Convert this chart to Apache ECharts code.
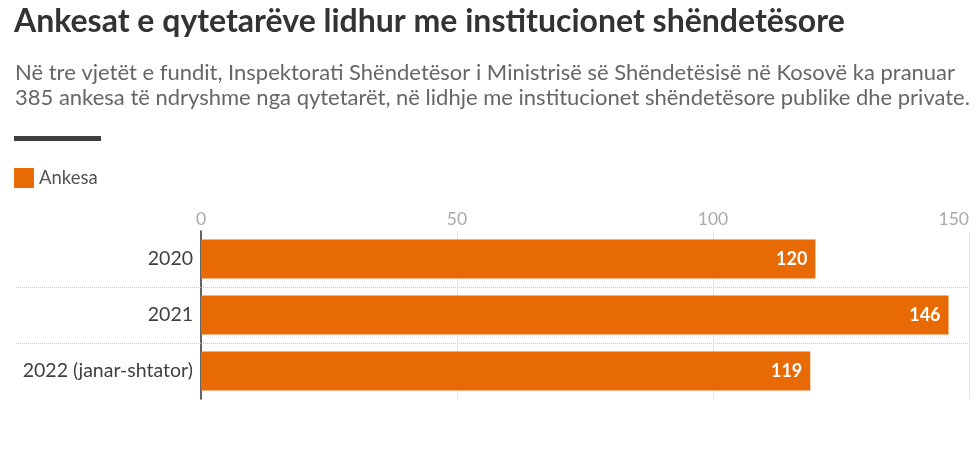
<!DOCTYPE html>
<html>
<head>
<meta charset="utf-8">
<script src="https://cdn.jsdelivr.net/npm/echarts@6/dist/echarts.min.js"></script>
<style>
  html, body { margin: 0; padding: 0; background: #fff; }
  #chart { width: 980px; height: 469px; }
</style>
</head>
<body>
<div id="chart"></div>
<script>
// 数据
const categories = ['2020', '2021', '2022 (janar-shtator)'];
const ankesa = [120, 146, 119];
const seriesName = 'Ankesa';

const titleText = 'Ankesat e qytetarëve lidhur me institucionet shëndetësore';
const subText = 'Në tre vjetët e fundit, Inspektorati Shëndetësor i Ministrisë së Shëndetësisë në Kosovë ka pranuar\n' +
  '385 ankesa të ndryshme nga qytetarët, në lidhje me institucionet shëndetësore publike dhe private.';

const fontFamily = 'Lato';
const barColor = '#e86a04';
const sepColor = '#c8c8c8';

const chart = echarts.init(document.getElementById('chart'));

// 辅助轴：用于绘制类目之间的分隔虚线（延伸到标签区域）
const sepSlots = ['', '', '', ''];

const option = {
  backgroundColor: '#fff',
  animation: false,
  title: [
    {
      text: titleText,
      left: 14,
      top: 6,
      padding: 0,
      textStyle: { fontFamily, fontSize: 32, fontWeight: 'bold', color: '#333' }
    },
    {
      text: subText,
      left: 15,
      top: 60,
      padding: 0,
      textStyle: { fontFamily, fontSize: 22, fontWeight: 'normal', color: '#666', lineHeight: 25 }
    }
  ],
  graphic: [
    // 标题下方的分隔条
    { type: 'rect', left: 14, top: 136, shape: { width: 87, height: 5 }, style: { fill: '#3c4043' } }
  ],
  legend: {
    data: [seriesName],
    left: 14,
    top: 168,
    padding: 0,
    icon: 'rect',
    itemWidth: 20,
    itemHeight: 20,
    itemGap: 6,
    textStyle: { fontFamily, fontSize: 18.5, color: '#555' }
  },
  grid: {
    left: 201,
    right: 11,
    top: 231,
    bottom: 70,
    containLabel: false
  },
  xAxis: {
    type: 'value',
    position: 'top',
    min: 0,
    max: 150,
    interval: 50,
    axisLine: { show: false },
    axisTick: { show: false },
    axisLabel: {
      color: '#aaa',
      fontFamily,
      fontSize: 17.5,
      margin: 3,
      alignMaxLabel: 'right'
    },
    splitLine: { lineStyle: { color: '#e4e4e4', width: 1 } }
  },
  yAxis: [
    {
      type: 'category',
      data: categories,
      inverse: true,
      axisLine: { show: true, lineStyle: { color: '#333', width: 1.5 } },
      axisTick: { show: false },
      axisLabel: {
        color: '#404040',
        fontFamily,
        fontSize: 19.5,
        margin: 8
      },
      splitLine: { show: false }
    },
    {
      type: 'category',
      data: sepSlots,
      position: 'left',
      boundaryGap: false,
      axisLine: { show: false },
      axisLabel: { show: false },
      axisTick: {
        show: true,
        length: 186,
        interval: (idx) => idx === 1 || idx === 2,
        lineStyle: { color: sepColor, type: 'dotted', width: 1 }
      },
      splitLine: {
        show: true,
        interval: (idx) => idx === 1 || idx === 2,
        lineStyle: { color: sepColor, type: 'dotted', width: 1 }
      }
    }
  ],
  series: [
    {
      name: seriesName,
      type: 'bar',
      data: ankesa,
      barWidth: 39,
      yAxisIndex: 0,
      itemStyle: { color: barColor },
      label: {
        show: true,
        position: 'insideRight',
        distance: 8,
        color: '#fff',
        fontFamily,
        fontSize: 18,
        fontWeight: 'bold'
      }
    }
  ]
};

chart.setOption(option);
</script>
</body>
</html>
